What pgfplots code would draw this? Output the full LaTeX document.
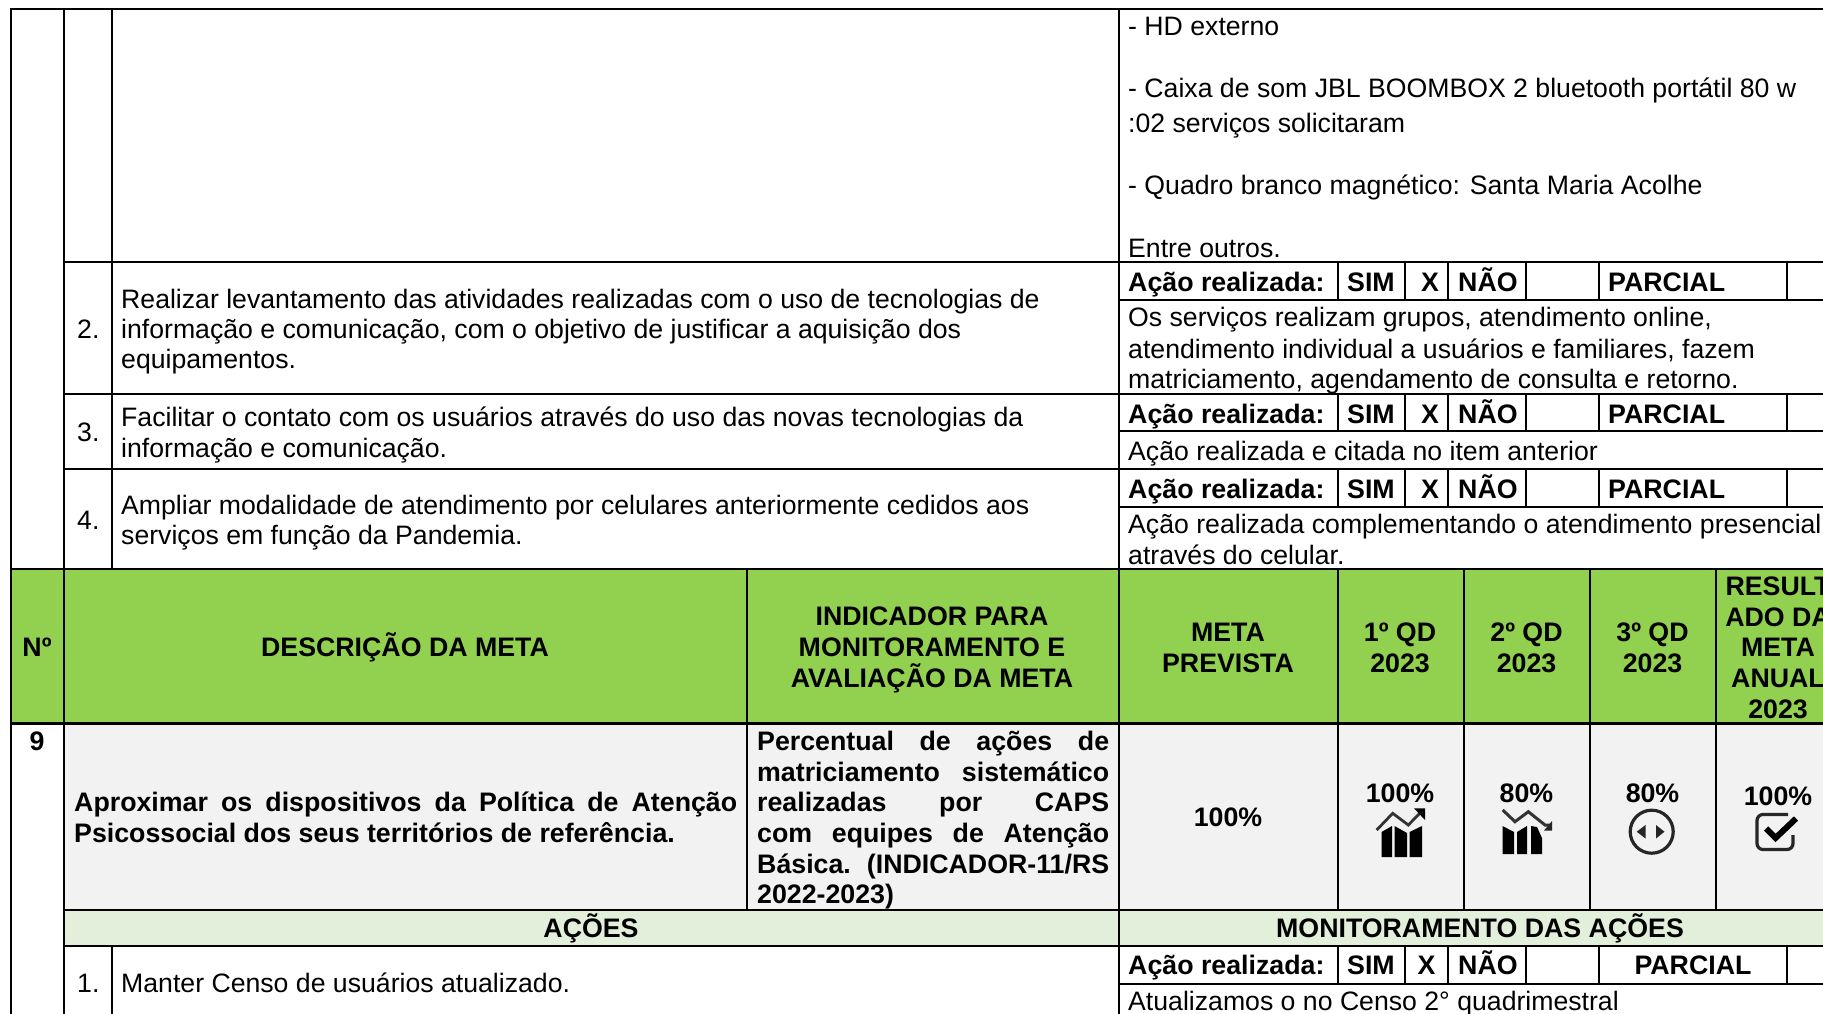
\documentclass[border=0pt]{standalone}
\usepackage{pgfplots}
\pgfplotsset{compat=1.18}
\usepackage{fontspec}
\setmainfont{Liberation Sans}
\definecolor{hdr}{HTML}{92D050}
\definecolor{cellgray}{HTML}{F2F2F2}
\definecolor{sub}{HTML}{E2EFDA}
\newcommand{\fillrect}[5]{\addplot[fill=#5,draw=none,forget plot] coordinates {(#1,#2) (#3,#2) (#3,#4) (#1,#4)} -- cycle;}
\newcommand{\hl}[3]{\addplot[black,line width=2.4pt,forget plot] coordinates {(#2,#1) (#3,#1)};}
\newcommand{\vl}[3]{\addplot[black,line width=2.4pt,forget plot] coordinates {(#1,#2) (#1,#3)};}
\newcommand{\T}[3]{\node[anchor=base west,inner sep=0pt] at (axis cs:#1,#2) {\fs #3};}
\newcommand{\B}[3]{\node[anchor=base west,inner sep=0pt] at (axis cs:#1,#2) {\fb\bfseries #3};}
\newcommand{\C}[3]{\node[anchor=base,inner sep=0pt] at (axis cs:#1,#2) {\fb\bfseries #3};}
\newcommand{\J}[4]{\node[anchor=base west,inner sep=0pt] at (axis cs:#1,#2) {\fb\bfseries\makebox[#3pt][s]{#4}};}
\newcommand{\fs}{\fontsize{26.65}{30}\selectfont}
\newcommand{\fb}{\fontsize{26.75}{30}\selectfont}
\newcommand{\act}[2]{%
 \B{1128}{#1}{Ação realizada:}
 \B{1347}{#1}{SIM}
 \C{#2}{#1}{X}
 \B{1458}{#1}{NÃO}
}
\begin{document}
\begin{tikzpicture}
\useasboundingbox (0,0) rectangle (1823pt,1014pt);
\clip (0,0) rectangle (1823pt,1014pt);
\begin{axis}[at={(0,0)},anchor=south west,scale only axis,width=1823pt,height=1014pt,
 xmin=0,xmax=1823,ymin=0,ymax=1014,y dir=reverse,hide axis,clip=false]
\fillrect{11}{569}{1823}{723}{hdr}
\fillrect{64}{723}{1823}{910}{cellgray}
\fillrect{64}{910}{1823}{946}{sub}
% horizontals
\hl{9}{10}{1823}
\hl{262}{64}{1823}
\hl{300}{1119}{1823}
\hl{394}{64}{1823}
\hl{431}{1119}{1823}
\hl{469}{64}{1823}
\hl{507}{1119}{1823}
\hl{569}{10}{1823}
\hl{723.5}{10}{1823}
\hl{910}{64}{1823}
\hl{946}{64}{1823}
\hl{984}{1119}{1823}
% verticals
\vl{11}{8}{1014}
\vl{64}{8}{1014}
\vl{112}{8}{569}
\vl{112}{946}{1014}
\vl{1119}{8}{1014}
\vl{747}{569}{910}
\vl{1338}{569}{910}
\vl{1464}{569}{910}
\vl{1590}{569}{910}
\vl{1716}{569}{910}
\vl{1338}{262}{300}\vl{1405}{262}{300}\vl{1448}{262}{300}\vl{1526}{262}{300}\vl{1599}{262}{300}\vl{1787}{262}{300}
\vl{1338}{394}{431}\vl{1405}{394}{431}\vl{1448}{394}{431}\vl{1526}{394}{431}\vl{1599}{394}{431}\vl{1787}{394}{431}
\vl{1338}{469}{507}\vl{1405}{469}{507}\vl{1448}{469}{507}\vl{1526}{469}{507}\vl{1599}{469}{507}\vl{1787}{469}{507}
\vl{1338}{946}{984}\vl{1405}{946}{984}\vl{1448}{946}{984}\vl{1526}{946}{984}\vl{1599}{946}{984}\vl{1787}{946}{984}
% top right
\T{1128}{36}{- HD externo}
\T{1128}{98}{- Caixa de som JBL BOOMBOX 2 bluetooth portátil 80 w}
\T{1128}{132}{:02 serviços solicitaram}
\T{1128}{194}{- Quadro branco magnético: Santa Maria Acolhe}
\T{1128}{257}{Entre outros.}
% row 2
\T{77}{338}{2.}
\T{121}{308}{Realizar levantamento das atividades realizadas com o uso de tecnologias de}
\T{121}{338}{informação e comunicação, com o objetivo de justificar a aquisição dos}
\T{121}{368}{equipamentos.}
\act{291}{1430}
\B{1608}{291}{PARCIAL}
\T{1128}{326}{Os serviços realizam grupos, atendimento online,}
\T{1128}{358}{atendimento individual a usuários e familiares, fazem}
\T{1128}{388}{matriciamento, agendamento de consulta e retorno.}
% row 3
\T{77}{441}{3.}
\T{121}{426}{Facilitar o contato com os usuários através do uso das novas tecnologias da}
\T{121}{457}{informação e comunicação.}
\act{423}{1430}
\B{1608}{423}{PARCIAL}
\T{1128}{460}{Ação realizada e citada no item anterior}
% row 4
\T{77}{529}{4.}
\T{121}{514}{Ampliar modalidade de atendimento por celulares anteriormente cedidos aos}
\T{121}{544}{serviços em função da Pandemia.}
\act{498}{1430}
\B{1608}{498}{PARCIAL}
\T{1128}{533}{Ação realizada complementando o atendimento presencial}
\T{1128}{564}{através do celular.}
% header
\C{37}{656}{Nº}
\C{405}{656}{DESCRIÇÃO DA META}
\C{932}{625}{INDICADOR PARA}
\C{932}{656}{MONITORAMENTO E}
\C{932}{687}{AVALIAÇÃO DA META}
\C{1228}{641}{META}
\C{1228}{672}{PREVISTA}
\C{1400}{641}{1º QD}\C{1400}{672}{2023}
\C{1526.5}{641}{2º QD}\C{1526.5}{672}{2023}
\C{1652.5}{641}{3º QD}\C{1652.5}{672}{2023}
\C{1778}{595}{RESULT}
\C{1778}{626}{ADO DA}
\C{1778}{656}{META}
\C{1778}{687}{ANUAL}
\C{1778}{718}{2023}
% row 9
\C{37}{750}{9}
\J{74}{811}{663}{Aproximar os dispositivos da Política de Atenção}
\B{74}{842}{Psicossocial dos seus territórios de referência.}
\J{757}{750}{352}{Percentual de ações de}
\J{757}{781}{352}{matriciamento sistemático}
\J{757}{811}{352}{realizadas por CAPS}
\J{757}{842}{352}{com equipes de Atenção}
\J{757}{873}{352}{Básica. (INDICADOR-11/RS}
\B{757}{903}{2022-2023)}
\C{1228}{826}{100\%}
\C{1400}{802}{100\%}
\C{1526.5}{802}{80\%}
\C{1652.5}{802}{80\%}
\C{1778}{805}{100\%}
% icon 1 (line rising over bars)
\addplot[fill=black,draw=none,forget plot] coordinates {(1381.5,857) (1381.5,832) (1392,826) (1392,857)} -- cycle;
\addplot[fill=black,draw=none,forget plot] coordinates {(1394.5,857) (1394.5,826) (1407,833) (1407,857)} -- cycle;
\addplot[fill=black,draw=none,forget plot] coordinates {(1409.5,857) (1409.5,832) (1422,826) (1422,857)} -- cycle;
\addplot[black!80,line width=2.8pt,forget plot] coordinates {(1376.7,830) (1392.7,813.3) (1408.3,825) (1421,812)};
\addplot[fill=black,draw=none,forget plot] coordinates {(1414,808.3) (1425,808.3) (1425,820)} -- cycle;
% icon 2 (line falling over bars)
\addplot[fill=black,draw=none,forget plot] coordinates {(1502.5,854) (1502.5,826) (1514,832) (1514,854)} -- cycle;
\addplot[fill=black,draw=none,forget plot] coordinates {(1517,854) (1517,832) (1527,826) (1527,854)} -- cycle;
\addplot[fill=black,draw=none,forget plot] coordinates {(1531,854) (1531,826) (1537,827) (1542,838) (1542,854)} -- cycle;
\addplot[black!80,line width=3pt,forget plot] coordinates {(1502.7,810) (1515,821.7) (1528.3,811.7) (1545,825) (1551.7,825)};
\addplot[fill=black!85,draw=none,forget plot] coordinates {(1544,830.5) (1552,830.5) (1552,821)} -- cycle;
% icon 3 (circle with two triangles)
\draw[black!85,line width=3.2pt] (axis cs:1651.7,831.7) circle [radius=21.5pt];
\addplot[fill=black!85,draw=none,forget plot] coordinates {(1636.7,831.7) (1645.5,825) (1645.5,838.5)} -- cycle;
\addplot[fill=black!85,draw=none,forget plot] coordinates {(1664.5,831.7) (1656,825) (1656,838.5)} -- cycle;
% icon 4 (checkbox)
\addplot[black!85,line width=3.2pt,rounded corners=6pt,forget plot] coordinates {(1788,814.5) (1757,814.5) (1757,849.5) (1793,849.5) (1793,835)};
\addplot[black,line width=6pt,forget plot] coordinates {(1766,828.5) (1775.5,838) (1796,818.5)};
\C{591}{937}{AÇÕES}
\C{1480}{937}{MONITORAMENTO DAS AÇÕES}
% row 1
\T{77}{992}{1.}
\T{121}{992}{Manter Censo de usuários atualizado.}
\act{974}{1426.5}
\C{1693}{974}{PARCIAL}
\T{1128}{1010}{Atualizamos o no Censo 2° quadrimestral}
\end{axis}
\end{tikzpicture}
\end{document}
